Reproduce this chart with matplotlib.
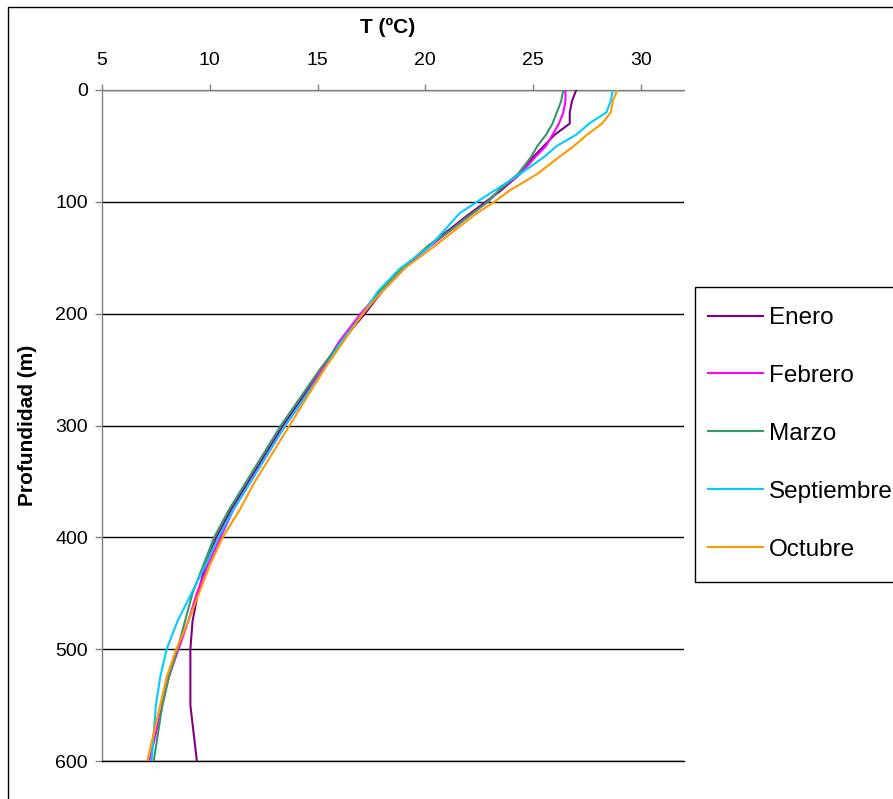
import matplotlib
matplotlib.use("Agg")
import matplotlib.pyplot as plt
import matplotlib.patches as mpatches

plt.rcParams['font.family'] = ['Liberation Sans', 'DejaVu Sans']

# Depth levels (m)
depth = [0, 10, 20, 30, 40, 50, 60, 75, 90, 100, 110, 125, 140, 160, 180, 200,
         225, 250, 275, 300, 325, 350, 375, 400, 425, 450, 475, 500, 525, 550, 575, 600]

enero = [27.0, 26.8, 26.7, 26.7, 26.0, 25.5, 25.0, 24.4, 23.5, 22.8, 22.1, 21.1, 20.1, 19.0, 18.0, 17.2,
         16.1, 15.2, 14.3, 13.4, 12.6, 11.8, 11.0, 10.3, 9.8, 9.45, 9.2, 9.1, 9.1, 9.1, 9.25, 9.4]
febrero = [26.5, 26.5, 26.4, 26.2, 25.9, 25.6, 25.1, 24.4, 23.4, 22.9, 22.2, 21.2, 20.2, 18.9, 17.9, 17.0,
           16.0, 15.2, 14.4, 13.5, 12.7, 11.9, 11.1, 10.5, 9.9, 9.4, 9.0, 8.55, 8.1, 7.8, 7.5, 7.2]
marzo = [26.4, 26.3, 26.1, 25.9, 25.6, 25.2, 24.9, 24.3, 23.4, 22.9, 22.2, 21.2, 20.1, 18.9, 17.9, 17.1,
         16.1, 15.1, 14.2, 13.3, 12.5, 11.7, 10.9, 10.2, 9.7, 9.2, 8.85, 8.5, 8.1, 7.8, 7.6, 7.4]
septiembre = [28.7, 28.6, 28.4, 27.6, 27.0, 26.1, 25.5, 24.4, 23.2, 22.4, 21.6, 20.9, 20.2, 18.8, 17.8, 17.1,
              16.1, 15.3, 14.4, 13.5, 12.7, 11.9, 11.1, 10.4, 9.8, 9.15, 8.5, 8.0, 7.7, 7.5, 7.4, 7.3]
octubre = [28.9, 28.7, 28.6, 28.2, 27.5, 26.9, 26.2, 25.2, 23.9, 23.2, 22.4, 21.4, 20.4, 19.0, 18.0, 17.1,
           16.2, 15.3, 14.5, 13.7, 12.9, 12.1, 11.4, 10.6, 10.0, 9.5, 9.0, 8.45, 8.0, 7.7, 7.4, 7.1]

series = [("Enero", enero, "#800080"),
          ("Febrero", febrero, "#FF00FF"),
          ("Marzo", marzo, "#339966"),
          ("Septiembre", septiembre, "#00CCFF"),
          ("Octubre", octubre, "#FF9900")]

x_ticks = [5, 10, 15, 20, 25, 30]
y_ticks = [0, 100, 200, 300, 400, 500, 600]

W, H = 893, 799
fig = plt.figure(figsize=(W / 100, H / 100), dpi=100)
ax = fig.add_axes([102 / W, 1 - 761 / H, 582 / W, 671 / H])

for name, vals, col in series:
    ax.plot(vals, depth, color=col, lw=1.5, label=name, zorder=3)

ax.set_xlim(5, 32)
ax.set_ylim(600, 0)
ax.set_xticks(x_ticks)
ax.set_yticks(y_ticks)
ax.xaxis.tick_top()
ax.xaxis.set_label_position('top')
ax.yaxis.grid(True, color='black', lw=1.0, zorder=1)
ax.set_axisbelow(True)

ax.spines['right'].set_visible(False)
ax.spines['bottom'].set_color('black')
ax.spines['top'].set_color('#808080')
ax.spines['left'].set_color('#808080')
for s in ['top', 'left', 'bottom']:
    ax.spines[s].set_linewidth(1.0)

ax.tick_params(axis='x', direction='out', length=4, width=1, color='#808080',
               labelsize=14, pad=11)
ax.tick_params(axis='y', direction='out', length=5, width=1, color='#808080',
               labelsize=14, pad=5)

ax.set_xlabel("T (ºC)", fontsize=15, fontweight='bold')
ax.xaxis.set_label_coords((388 - 102) / 582, 1 + (90 - 33) / 671)
ax.set_ylabel("Profundidad (m)", fontsize=15, fontweight='bold')
ax.yaxis.set_label_coords((37 - 102) / 582, 0.5)

# legend frame (extends past the right edge like the reference)
fig.patches.append(mpatches.Rectangle((695 / W, 1 - 582 / H), 0.3, (582 - 287) / H,
                                      transform=fig.transFigure, fill=False,
                                      edgecolor='black', lw=1.0))
leg = ax.legend(loc='upper left', bbox_to_anchor=(708 / W, 1 - 307 / H),
                bbox_transform=fig.transFigure, borderaxespad=0,
                fontsize=17.5, frameon=False, handlelength=2.25,
                handletextpad=0.25, labelspacing=1.48, borderpad=0)

# outer chart-area border
fig.patches.append(mpatches.Rectangle((8 / W, -0.2), 1.5, 1.2 - 7 / H,
                                      transform=fig.transFigure, fill=False,
                                      edgecolor='black', lw=1.0))

fig.savefig("out.png", dpi=100)
